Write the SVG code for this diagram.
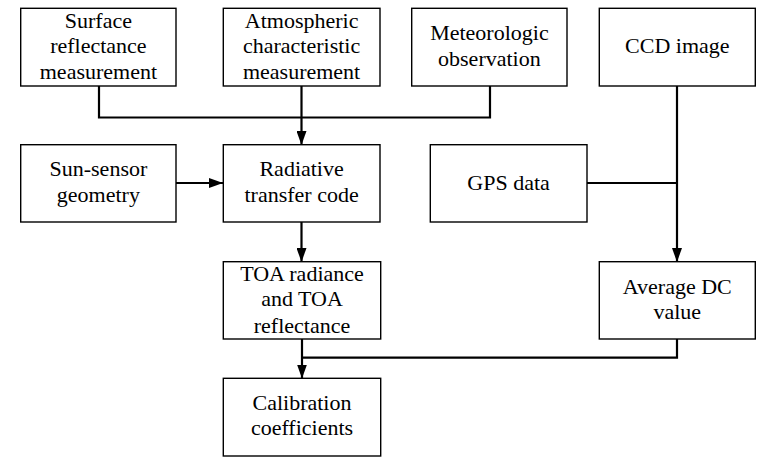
<svg xmlns="http://www.w3.org/2000/svg" width="776" height="465" viewBox="0 0 776 465">
<defs>
<style>
.box{fill:#fff;stroke:#000;stroke-width:1.4}
.t{font-family:'Liberation Serif','DejaVu Serif',serif;font-size:22px;fill:#000;text-anchor:middle}
.c{fill:none;stroke:#000;stroke-width:2.2}
</style>
<marker id="ah2" viewBox="0 0 14 10" refX="14" refY="5" markerWidth="14" markerHeight="10" markerUnits="userSpaceOnUse" orient="auto">
<path d="M0,0 L14,5 L0,10 z" fill="#000"/>
</marker>
</defs>
<rect width="776" height="465" fill="#fff"/>
<g id="connectors">
<polyline class="c" points="99,86 99,117.5 490,117.5 490,86"/>
<line class="c" x1="301.5" y1="86" x2="301.5" y2="145" marker-end="url(#ah2)"/>
<line class="c" x1="176" y1="183" x2="223" y2="183" marker-end="url(#ah2)"/>
<line class="c" x1="301.5" y1="222" x2="301.5" y2="262" marker-end="url(#ah2)"/>
<line class="c" x1="677" y1="86" x2="677" y2="262" marker-end="url(#ah2)"/>
<line class="c" x1="587" y1="183" x2="677" y2="183"/>
<line class="c" x1="302" y1="339" x2="302" y2="378.5" marker-end="url(#ah2)"/>
<polyline class="c" points="677,339 677,357.7 302,357.7"/>
</g>
<g id="surface">
<rect class="box" x="20.7" y="8.3" width="155.3" height="77.7"/>
<text class="t" x="98.4" y="27.7">Surface</text>
<text class="t" x="98.4" y="53.3">reflectance</text>
<text class="t" x="98.4" y="79.3">measurement</text>
</g>
<g id="atmospheric">
<rect class="box" x="223.3" y="8.3" width="156.7" height="77.7"/>
<text class="t" x="301.6" y="27.7">Atmospheric</text>
<text class="t" x="301.6" y="53.3">characteristic</text>
<text class="t" x="301.6" y="79.3">measurement</text>
</g>
<g id="meteorologic">
<rect class="box" x="411.7" y="8.3" width="155.3" height="77.7"/>
<text class="t" x="489.4" y="40">Meteorologic</text>
<text class="t" x="489.4" y="65.7">observation</text>
</g>
<g id="ccd">
<rect class="box" x="599.3" y="8.3" width="156" height="77.7"/>
<text class="t" x="677.3" y="53.3">CCD image</text>
</g>
<g id="sunsensor">
<rect class="box" x="20.7" y="144.7" width="155.3" height="77.3"/>
<text class="t" x="98.4" y="176">Sun-sensor</text>
<text class="t" x="98.4" y="202">geometry</text>
</g>
<g id="radiative">
<rect class="box" x="223.3" y="144.7" width="156.7" height="77.3"/>
<text class="t" x="301.6" y="176">Radiative</text>
<text class="t" x="301.6" y="202">transfer code</text>
</g>
<g id="gps">
<rect class="box" x="430.3" y="144.7" width="156.7" height="77.3"/>
<text class="t" x="508.6" y="189.5">GPS data</text>
</g>
<g id="toa">
<rect class="box" x="223.3" y="261.7" width="157.4" height="77.3"/>
<text class="t" x="302" y="280.7">TOA radiance</text>
<text class="t" x="302" y="306.3">and TOA</text>
<text class="t" x="302" y="332.7">reflectance</text>
</g>
<g id="averagedc">
<rect class="box" x="599.3" y="261.7" width="156" height="77.3"/>
<text class="t" x="677.3" y="294">Average DC</text>
<text class="t" x="677.3" y="319.3">value</text>
</g>
<g id="calibration">
<rect class="box" x="223.3" y="378.3" width="157.4" height="77.7"/>
<text class="t" x="302" y="410">Calibration</text>
<text class="t" x="302" y="435.3">coefficients</text>
</g>
</svg>
